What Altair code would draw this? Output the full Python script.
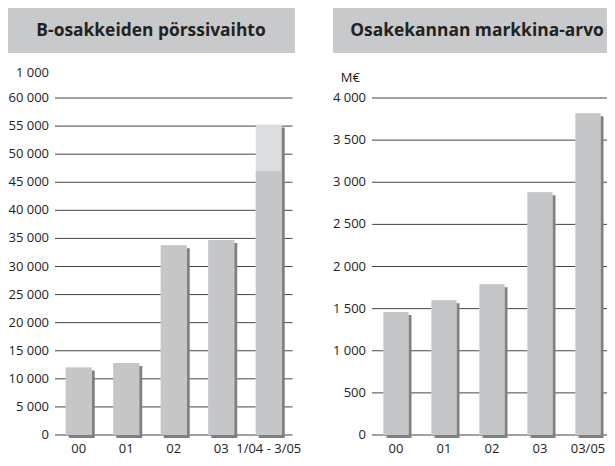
import altair as alt
import pandas as pd

# ---- data ----
left_cats = ["00", "01", "02", "03", "1/04 - 3/05"]
left_base = [12000, 12800, 33800, 34700, 47000]
left_extra = [0, 0, 0, 0, 8300]
left_ticks = list(range(0, 60001, 5000))

right_cats = ["00", "01", "02", "03", "03/05"]
right_vals = [1460, 1600, 1790, 2880, 3820]
right_ticks = list(range(0, 4001, 500))

left_title = "B-osakkeiden pörssivaihto"
right_title = "Osakekannan markkina-arvo"
left_unit = "1 000"
right_unit = "M€"

# ---- style ----
FONT = "Open Sans"
BAR = "#c5c6c8"
TOP = "#dcdddf"
SHADOW = "#808082"
BOX = "#c8c9cb"
GRID = "#444444"
TEXT = "#222222"
LABEL_SIZE = 13
W, H = 599, 450
Y_RANGE = [427, 90]


def panel(cats, base, total, ticks, ymax, title, unit, x_range, pad_inner,
          grid_x, grid_x2, label_x, box_x, box_x2, title_x, unit_x, unit_y):
    df = pd.DataFrame({"cat": cats, "base": base, "total": total})
    tick_df = pd.DataFrame({"v": ticks})
    xs = alt.Scale(domain=cats, range=x_range, paddingInner=pad_inner,
                   paddingOuter=pad_inner / 2)
    ys = alt.Scale(domain=[0, ymax], range=Y_RANGE, nice=False, zero=True)
    X = alt.X("cat:N", scale=xs, axis=None)

    grid = alt.Chart(tick_df).mark_rule(color=GRID, strokeWidth=1).encode(
        y=alt.Y("v:Q", scale=ys, axis=None),
        x=alt.value(grid_x), x2=alt.value(grid_x2),
    )
    ylab = alt.Chart(tick_df).transform_calculate(
        lab="replace(format(datum.v, ','), ',', ' ')"
    ).mark_text(font=FONT, fontSize=LABEL_SIZE, color=TEXT, align="right",
                baseline="middle").encode(
        y=alt.Y("v:Q", scale=ys, axis=None),
        x=alt.value(label_x), text="lab:N",
    )
    shadow = alt.Chart(df).mark_bar(color=SHADOW, xOffset=3, yOffset=3).encode(
        x=X, y=alt.Y("total:Q", scale=ys, axis=None))
    top = alt.Chart(df).mark_bar(color=TOP).encode(
        x=X, y=alt.Y("total:Q", scale=ys, axis=None))
    bars = alt.Chart(df).mark_bar(color=BAR).encode(
        x=X, y=alt.Y("base:Q", scale=ys, axis=None))
    xlab = alt.Chart(df).mark_text(font=FONT, fontSize=LABEL_SIZE, color=TEXT,
                                   align="center", baseline="middle").encode(
        x=X, y=alt.value(441), text="cat:N")

    tdf = pd.DataFrame({"t": [title]})
    box = alt.Chart(tdf).mark_rect(color=BOX).encode(
        x=alt.value(box_x), x2=alt.value(box_x2),
        y=alt.value(0), y2=alt.value(45),
    )
    ttl = alt.Chart(tdf).mark_text(font=FONT, fontSize=17.4, fontWeight="bold",
                                   color=TEXT, align="center", baseline="middle").encode(
        x=alt.value(title_x), y=alt.value(22.5), text="t:N")
    udf = pd.DataFrame({"t": [unit]})
    un = alt.Chart(udf).mark_text(font=FONT, fontSize=LABEL_SIZE, color=TEXT,
                                  align="right", baseline="middle").encode(
        x=alt.value(unit_x), y=alt.value(unit_y), text="t:N")
    return [grid, ylab, shadow, top, bars, xlab, box, ttl, un]


left_total = [b + e for b, e in zip(left_base, left_extra)]
left_layers = panel(left_cats, left_base, left_total, left_ticks, 60000,
                    left_title, left_unit, [47, 284.5], 0.453,
                    47, 284.5, 41, 0, 287, 143, 41, 64.5)
right_layers = panel(right_cats, right_vals, right_vals, right_ticks, 4000,
                     right_title, right_unit, [364, 604], 0.479,
                     364, W, 358, 325, W, 469, 352, 70)

chart = alt.layer(*left_layers, *right_layers).resolve_scale(
    x="independent", y="independent"
).properties(
    width=W, height=H,
    autosize=alt.AutoSizeParams(type="none"),
    padding={"left": 0, "top": 0, "right": 0, "bottom": 0},
).configure_view(stroke=None)

chart.save("out.html", embed_options={"renderer": "svg", "actions": False})
